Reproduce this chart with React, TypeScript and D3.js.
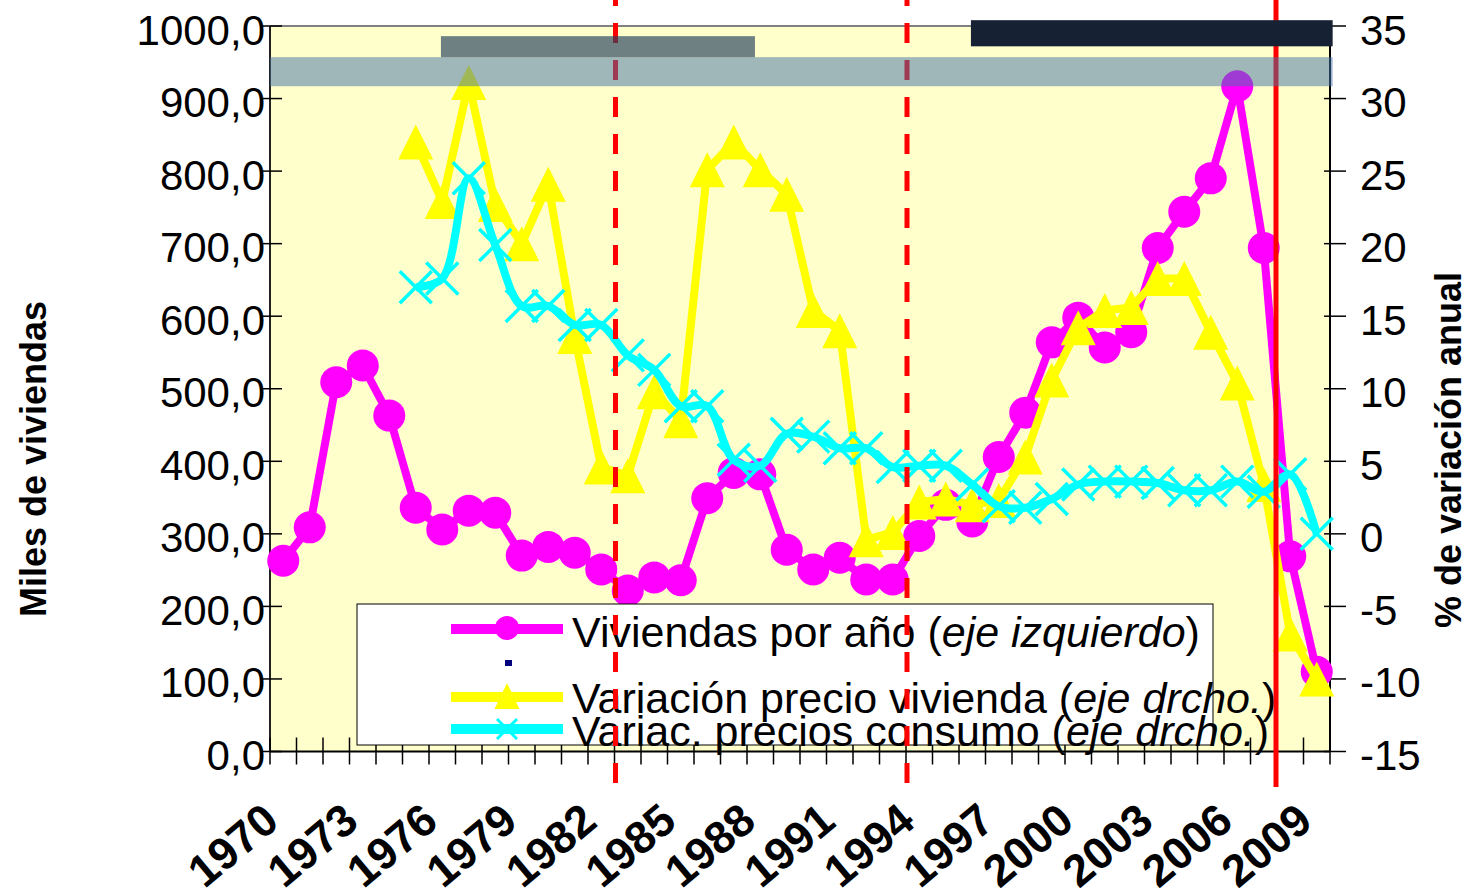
import React from 'react';
import * as d3 from 'd3';

// ---------- data ----------
const years = [
  1970, 1971, 1972, 1973, 1974, 1975, 1976, 1977, 1978, 1979,
  1980, 1981, 1982, 1983, 1984, 1985, 1986, 1987, 1988, 1989,
  1990, 1991, 1992, 1993, 1994, 1995, 1996, 1997, 1998, 1999,
  2000, 2001, 2002, 2003, 2004, 2005, 2006, 2007, 2008, 2009,
];

// Viviendas por año (miles) - left axis
const viviendas = [
  263, 309, 509, 532, 463, 336, 306, 332, 329, 270,
  282, 274, 251, 222, 240, 236, 349, 384, 382, 278,
  251, 267, 237, 237, 297, 340, 317, 406, 467, 564,
  598, 557, 578, 694, 744, 790, 917, 694, 269, 110,
];

// Variación precio vivienda (%) - right axis
const precioVivienda: (number | null)[] = [
  null, null, null, null, null, 27.0, 22.9, 31.1, 22.7, 20.0,
  24.1, 13.6, 4.6, 4.0, 9.8, 7.8, 25.1, 27.0, 25.1, 23.4,
  15.4, 14.0, -0.4, 0.1, 2.2, 2.4, 2.0, 2.3, 5.3, 10.6,
  14.2, 15.4, 15.6, 17.6, 17.6, 13.9, 10.4, 3.4, -6.9, -10.0,
];

// Variación precios consumo (%) - right axis
const preciosConsumo: (number | null)[] = [
  null, null, null, null, null, 17.0, 17.6, 24.5, 19.9, 15.7,
  15.7, 14.4, 14.4, 12.3, 11.3, 8.8, 8.8, 5.1, 4.7, 6.9,
  6.7, 5.9, 5.9, 4.6, 4.7, 4.7, 3.4, 1.9, 1.8, 2.4,
  3.4, 3.6, 3.6, 3.5, 3.0, 3.0, 3.6, 2.9, 4.1, 0.0,
];

const leftTicks = [0, 100, 200, 300, 400, 500, 600, 700, 800, 900, 1000];
const rightTicks = [-15, -10, -5, 0, 5, 10, 15, 20, 25, 30, 35];
const yearLabels = [1970, 1973, 1976, 1979, 1982, 1985, 1988, 1991, 1994, 1997, 2000, 2003, 2006, 2009];

// vertical reference lines (at the start of these years)
const dashedLineYears = [1983, 1994];
const solidLineYears = [2008];

// shaded annotation bands (years on x, left-axis units on y)
const grayBar = { from: 1976.45, to: 1988.3, lo: 957, hi: 986 };
const lightBand = { from: 1970, to: 2010.1, lo: 917, hi: 957 };
const navyBar = { from: 1996.45, to: 2010.1, lo: 972, hi: 1008 };

// ---------- layout ----------
const W = 1468;
const H = 896;
const L = 270;
const R = 1330;
const T = 26;
const B = 751.5;
const FONT = 'Liberation Sans, Arial, Helvetica, sans-serif';

const MAGENTA = '#FF00FF';
const YELLOW = '#FFFF00';
const CYAN = '#00FFFF';

export default function App() {
  const x = d3.scaleBand<string>().domain(years.map(String)).range([L, R]).padding(0);
  const bw = x.bandwidth();
  const cx = (yr: number) => (x(String(yr)) as number) + bw / 2;
  const xe = d3.scaleLinear().domain([1970, 2010]).range([L, R]);
  const yL = d3.scaleLinear().domain([0, 1000]).range([B, T]);
  const yR = d3.scaleLinear().domain([-15, 35]).range([B, T]);

  const ptsViv = years.map((yr, i) => [cx(yr), yL(viviendas[i])] as [number, number]);
  const ptsPre = years
    .map((yr, i) => (precioVivienda[i] == null ? null : ([cx(yr), yR(precioVivienda[i] as number)] as [number, number])))
    .filter((d): d is [number, number] => d != null);
  const ptsCon = years
    .map((yr, i) => (preciosConsumo[i] == null ? null : ([cx(yr), yR(preciosConsumo[i] as number)] as [number, number])))
    .filter((d): d is [number, number] => d != null);

  const straight = d3.line<[number, number]>().x((d) => d[0]).y((d) => d[1]);
  const smooth = d3
    .line<[number, number]>()
    .x((d) => d[0])
    .y((d) => d[1])
    .curve(d3.curveCatmullRom.alpha(0.5));

  const tri = (w: number, h: number) => `M0,${-h / 2}L${w / 2},${h / 2}L${-w / 2},${h / 2}Z`;
  const xMark = (s: number) => `M${-s / 2},${-s / 2}L${s / 2},${s / 2}M${-s / 2},${s / 2}L${s / 2},${-s / 2}`;

  const tickEdges = [...years, 2010];

  const band = (b: { from: number; to: number; lo: number; hi: number }) => ({
    x: xe(b.from),
    y: yL(b.hi),
    width: xe(b.to) - xe(b.from),
    height: yL(b.lo) - yL(b.hi),
  });

  return (
    <svg
      width={W}
      height={H}
      style={{ position: 'absolute', left: 0, top: 0, background: '#fff' }}
      fontFamily={FONT}
    >
      {/* plot background */}
      <rect x={L} y={T} width={R - L} height={B - T} fill="#FFFFCC" />
      {/* frame / axes */}
      <line x1={L} x2={R} y1={T} y2={T} stroke="#808080" strokeWidth={2} />
      <line x1={L} x2={L} y1={T} y2={B} stroke="#222" strokeWidth={2} />
      <line x1={R} x2={R} y1={T} y2={B} stroke="#000" strokeWidth={2} />
      <line x1={L} x2={R} y1={B} y2={B} stroke="#000" strokeWidth={2} />

      {leftTicks.map((t) => (
        <line key={'lt' + t} x1={L - 8} x2={L + 12} y1={yL(t)} y2={yL(t)} stroke="#000" strokeWidth={1.5} />
      ))}
      {rightTicks.map((t) => (
        <line key={'rt' + t} x1={R - 6} x2={R + 16} y1={yR(t)} y2={yR(t)} stroke="#000" strokeWidth={1.5} />
      ))}
      {tickEdges.map((yr) => (
        <line key={'xt' + yr} x1={xe(yr)} x2={xe(yr)} y1={B - 14} y2={B + 13} stroke="#000" strokeWidth={1.5} />
      ))}

      {/* series: viviendas */}
      <path d={straight(ptsViv) || ''} fill="none" stroke={MAGENTA} strokeWidth={8} strokeLinejoin="round" />
      {ptsViv.map((p, i) => (
        <circle key={'v' + i} cx={p[0]} cy={p[1]} r={16} fill={MAGENTA} />
      ))}

      {/* series: precio vivienda */}
      <path d={straight(ptsPre) || ''} fill="none" stroke={YELLOW} strokeWidth={8} strokeLinejoin="round" />
      {ptsPre.map((p, i) => (
        <path key={'p' + i} d={tri(35, 35)} transform={`translate(${p[0]},${p[1]})`} fill={YELLOW} />
      ))}

      {/* series: precios consumo */}
      <path d={smooth(ptsCon) || ''} fill="none" stroke={CYAN} strokeWidth={8} strokeLinejoin="round" />
      {ptsCon.map((p, i) => (
        <path key={'c' + i} d={xMark(32)} transform={`translate(${p[0]},${p[1]})`} stroke={CYAN} strokeWidth={3.5} fill="none" />
      ))}

      {/* legend */}
      <g>
        <rect x={357} y={604} width={856} height={141} fill="#fff" stroke="#000" strokeWidth={1} />
        <line x1={451} x2={563} y1={629} y2={629} stroke={MAGENTA} strokeWidth={10} />
        <circle cx={507} cy={628} r={12} fill={MAGENTA} />
        <text x={572} y={647} fontSize={43} fill="#000">
          Viviendas por año (<tspan fontStyle="italic">eje izquierdo</tspan>)
        </text>
        <rect x={505} y={660} width={7} height={6} fill="#000080" />
        <line x1={451} x2={563} y1={697} y2={697} stroke={YELLOW} strokeWidth={10} />
        <path d={tri(25, 26)} transform="translate(507,696)" fill={YELLOW} />
        <text x={572} y={713} fontSize={43} fill="#000">
          Variación precio vivienda (<tspan fontStyle="italic">eje drcho.</tspan>)
        </text>
        <line x1={451} x2={563} y1={729} y2={729} stroke={CYAN} strokeWidth={10} />
        <path d={xMark(20)} transform="translate(507,729)" stroke={CYAN} strokeWidth={3} fill="none" />
        <text x={572} y={746} fontSize={43} fill="#000">
          Variac. precios consumo (<tspan fontStyle="italic">eje drcho.</tspan>)
        </text>
      </g>

      {/* vertical reference lines */}
      {dashedLineYears.map((yr) => (
        <line key={'d' + yr} x1={xe(yr) + 1} x2={xe(yr) + 1} y1={0} y2={790} stroke="#FF0000" strokeWidth={5} strokeDasharray="20,17" strokeDashoffset={14} />
      ))}
      {solidLineYears.map((yr) => (
        <line key={'s' + yr} x1={xe(yr) - 1} x2={xe(yr) - 1} y1={0} y2={787} stroke="#FF0000" strokeWidth={5} />
      ))}

      {/* annotation bands */}
      <rect {...band(lightBand)} fill="rgb(66,113,167)" fillOpacity={0.51} />
      <rect {...band(grayBar)} fill="rgb(40,66,94)" fillOpacity={0.67} />
      <rect {...band(navyBar)} fill="#162133" />

      {/* left tick labels */}
      {leftTicks.map((t) => (
        <text key={'ll' + t} x={265} y={yL(t) + 18.5} fontSize={42} textAnchor="end" fill="#000">
          {t.toFixed(1).replace('.', ',')}
        </text>
      ))}
      {/* right tick labels */}
      {rightTicks.map((t) => (
        <text key={'rl' + t} x={1360} y={yR(t) + 18.5} fontSize={42} textAnchor="start" fill="#000">
          {String(t)}
        </text>
      ))}
      {/* x labels */}
      {yearLabels.map((yr) => (
        <text
          key={'xl' + yr}
          transform={`translate(${cx(yr) - 2},${825}) rotate(-40)`}
          fontSize={45}
          fontWeight="bold"
          textAnchor="end"
          fill="#000"
        >
          {String(yr)}
        </text>
      ))}

      {/* axis titles */}
      <text transform="translate(46,459) rotate(-90)" fontSize={36} fontWeight="bold" textAnchor="middle" fill="#000">
        Miles de viviendas
      </text>
      <text transform="translate(1461,450) rotate(-90)" fontSize={36} fontWeight="bold" textAnchor="middle" fill="#000">
        % de variación anual
      </text>
    </svg>
  );
}
